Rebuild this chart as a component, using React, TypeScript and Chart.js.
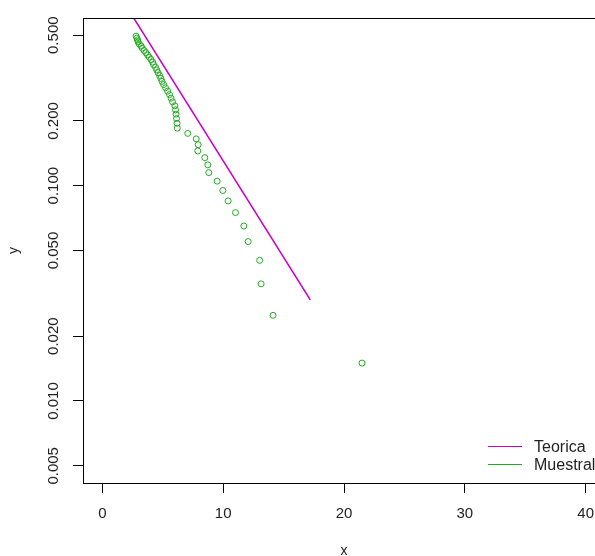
import React, { useEffect, useRef } from "react";
import { Chart, registerables } from "chart.js";

Chart.register(...registerables);

// Empirical (Muestral) points
const sampleX = [
  2.79, 2.86, 2.92, 2.96, 3.06, 3.21, 3.31, 3.45, 3.6, 3.74,
  3.88, 4.03, 4.16, 4.24, 4.4, 4.5, 4.61, 4.74, 4.84, 4.94,
  5.07, 5.23, 5.4, 5.56, 5.69, 5.81, 6.0, 6.06, 6.1, 6.14,
  6.18, 6.2, 7.07, 7.77, 7.93, 7.9, 8.48, 8.73, 8.81, 9.5,
  9.97, 10.41, 11.02, 11.71, 12.07, 13.02, 13.14, 14.13, 21.49,
];
const sampleY = [
  0.495, 0.485, 0.475, 0.465, 0.455, 0.445, 0.435, 0.425, 0.415, 0.405,
  0.395, 0.385, 0.375, 0.365, 0.355, 0.345, 0.335, 0.325, 0.315, 0.305,
  0.295, 0.285, 0.275, 0.265, 0.255, 0.245, 0.235, 0.225, 0.215, 0.205,
  0.195, 0.185, 0.175, 0.165, 0.155, 0.145, 0.135, 0.125, 0.115, 0.105,
  0.095, 0.085, 0.075, 0.065, 0.055, 0.045, 0.035, 0.025, 0.015,
];

// Theoretical (Teorica) line
const theoryX = [2.6, 17.21];
const theoryY = [0.6, 0.0295];

const xTicks = [0, 10, 20, 30, 40];
const yTicks = [0.005, 0.01, 0.02, 0.05, 0.1, 0.2, 0.5];
const legendLabels = ["Teorica", "Muestral"];

const X_MIN = -1.6;
const X_MAX = 41.6;
const Y_MIN = 0.00416;
const Y_MAX = 0.601;

const theoryColor = "#cc00cc";
const sampleColor = "#22aa22";
const FONT = '"Liberation Sans", Arial, Helvetica, sans-serif';

const boxPlugin = {
  id: "rbox",
  afterDraw(chart: any) {
    const { ctx, chartArea } = chart;
    ctx.save();
    ctx.strokeStyle = "#000";
    ctx.lineWidth = 1;
    ctx.strokeRect(
      Math.round(chartArea.left) + 0.5,
      Math.round(chartArea.top) + 0.5,
      Math.round(chartArea.right - chartArea.left),
      Math.round(chartArea.bottom - chartArea.top)
    );
    // legend (bottomright, no box)
    const colors = [theoryColor, sampleColor];
    ctx.font = "16px " + FONT;
    ctx.textBaseline = "middle";
    ctx.textAlign = "left";
    legendLabels.forEach((lab, i) => {
      const y = Math.round(chartArea.bottom - 37 + i * 18) + 0.5;
      ctx.strokeStyle = colors[i];
      ctx.lineWidth = 1;
      ctx.beginPath();
      ctx.moveTo(chartArea.right - 117, y);
      ctx.lineTo(chartArea.right - 83, y);
      ctx.stroke();
      ctx.fillStyle = "#222";
      ctx.fillText(lab, chartArea.right - 71, y + 1);
    });
    ctx.restore();
  },
};

export default function App() {
  const ref = useRef<HTMLCanvasElement | null>(null);

  useEffect(() => {
    if (!ref.current) return;
    const chart = new Chart(ref.current, {
      type: "scatter",
      data: {
        datasets: [
          {
            label: legendLabels[0],
            data: theoryX.map((x, i) => ({ x, y: theoryY[i] })),
            showLine: true,
            borderColor: theoryColor,
            backgroundColor: theoryColor,
            borderWidth: 1.6,
            pointRadius: 0,
            order: 2,
          },
          {
            label: legendLabels[1],
            data: sampleX.map((x, i) => ({ x, y: sampleY[i] })),
            showLine: false,
            borderColor: sampleColor,
            backgroundColor: "rgba(0,0,0,0)",
            borderWidth: 1,
            pointRadius: 3,
            pointStyle: "circle",
            order: 1,
          },
        ],
      },
      options: {
        responsive: false,
        animation: false,
        devicePixelRatio: 1,
        layout: { padding: { top: 18, right: 5, left: 0, bottom: 0 } },
        plugins: {
          legend: { display: false },
          tooltip: { enabled: false },
        },
        scales: {
          x: {
            type: "linear",
            min: X_MIN,
            max: X_MAX,
            afterBuildTicks: (s: any) => {
              s.ticks = xTicks.map((v) => ({ value: v }));
            },
            afterFit: (s: any) => {
              s.height = 73;
            },
            ticks: {
              autoSkip: false,
              maxRotation: 0,
              minRotation: 0,
              padding: 12,
              color: "#222",
              font: { family: FONT, size: 15 },
              callback: (v: any) => String(v),
            },
            grid: {
              drawOnChartArea: false,
              drawTicks: true,
              tickLength: 10,
              color: "#000",
              lineWidth: 1,
            },
            border: { display: true, color: "#000", width: 1 },
            title: {
              display: true,
              text: "x",
              color: "#222",
              font: { family: FONT, size: 14 },
              padding: { top: 0, bottom: -4 },
            },
          },
          y: {
            type: "logarithmic",
            min: Y_MIN,
            max: Y_MAX,
            afterBuildTicks: (s: any) => {
              s.ticks = yTicks.map((v) => ({ value: v, major: false }));
            },
            afterFit: (s: any) => {
              s.width = 83;
            },
            ticks: {
              autoSkip: false,
              minRotation: 90,
              maxRotation: 90,
              crossAlign: "center",
              padding: 0,
              color: "#222",
              font: { family: FONT, size: 15 },
              callback: (v: any) => Number(v).toFixed(3),
            },
            grid: {
              drawOnChartArea: false,
              drawTicks: true,
              tickLength: 10,
              color: "#000",
              lineWidth: 1,
            },
            border: { display: true, color: "#000", width: 1 },
            title: {
              display: true,
              text: "y",
              color: "#222",
              font: { family: FONT, size: 14 },
              padding: { top: 6, bottom: 0 },
            },
          },
        },
      },
      plugins: [boxPlugin],
    });
    return () => chart.destroy();
  }, []);

  return (
    <div
      style={{
        position: "fixed",
        left: 0,
        top: 0,
        width: 595,
        height: 556,
        overflow: "hidden",
        background: "#fff",
      }}
    >
      <canvas
        ref={ref}
        width={610}
        height={556}
        style={{ display: "block", width: 610, height: 556 }}
      />
    </div>
  );
}
